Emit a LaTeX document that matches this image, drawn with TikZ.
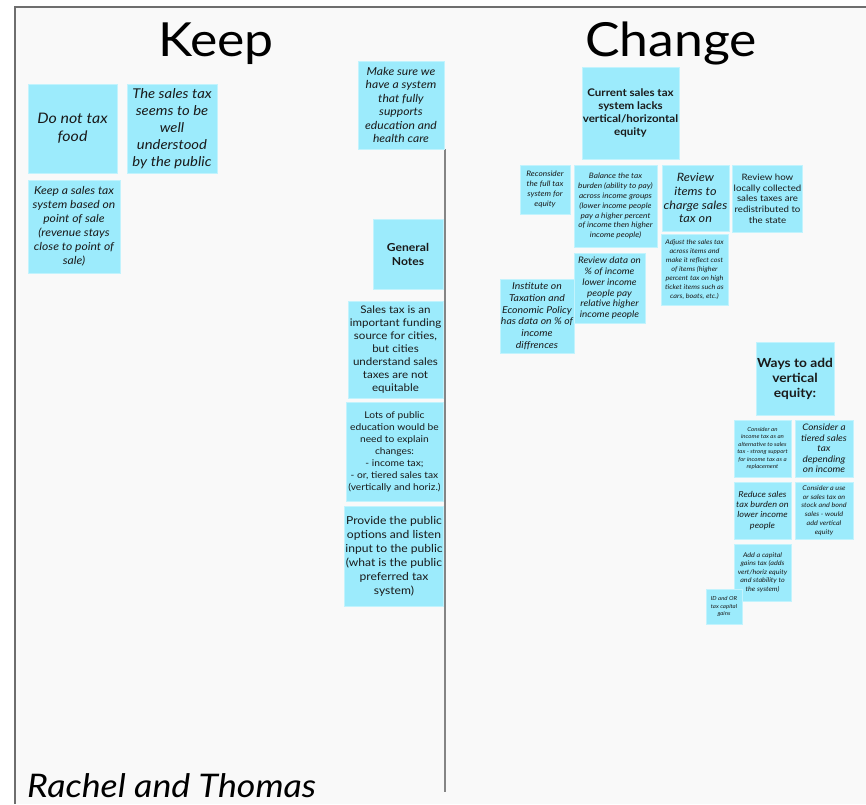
\documentclass[tikz,border=0pt]{standalone}
\usepackage{fontspec}
\setmainfont{Lato}[FakeStretch=1.1]
\definecolor{notefill}{HTML}{9CEBFC}
\definecolor{noteedge}{HTML}{C2F3FD}
\definecolor{boardbg}{HTML}{F9F9F9}
\definecolor{boardline}{HTML}{6E6E6E}
\definecolor{divline}{HTML}{858585}
\definecolor{ink}{HTML}{1A1A1A}
\tikzset{
  note/.style={fill=notefill, draw=noteedge, line width=0.7pt, inner sep=1pt,
    align=center, text=ink},
  it/.style 2 args={font=\fontsize{#1}{#2}\selectfont\itshape},
  rm/.style 2 args={font=\fontsize{#1}{#2}\selectfont},
  bf/.style 2 args={font=\fontsize{#1}{#2}\selectfont\bfseries},
  sz/.style 2 args={minimum width=#1, minimum height=#2},
  heading/.style={font=\fontsize{47}{50}\selectfont, text=black, anchor=base, inner sep=0pt},
}
\begin{document}
\begin{tikzpicture}[x=1pt, y=-1pt]
\useasboundingbox (0,0) rectangle (866,804);
% board
\fill[white] (0,0) rectangle (866,804);
\fill[boardbg] (15,7) rectangle (866,804);
\draw[boardline, line width=1.3pt] (15,804) -- (15,7) -- (866,7);

% headings
\node[heading] (keep) at (216,56) {Keep};
\node[heading] (change) at (671,56) {Change};
\node[font=\fontsize{32.5}{35}\selectfont\itshape, text=black, anchor=base west, inner sep=0pt]
  (authors) at (27,797) {Rachel and Thomas};

% divider between the two columns
\coordinate (divtop) at (445,149);
\coordinate (divend) at (445,792);
\draw[divline, line width=1.8pt] (divtop) -- (divend);

% Keep column
\node[note, it={14.5}{18}, sz={89}{89}] (food) at (72.5,128.5) {Do not tax\\food};
\node[note, it={13.5}{17}, sz={90}{89}] (understood) at (172,128.5)
  {The sales tax\\seems to be\\well\\understood\\by the public};
\node[note, it={11}{14}, sz={92}{93}] (pointofsale) at (74,226.5)
  {Keep a sales tax\\system based on\\point of sale\\(revenue stays\\close to point of\\sale)};

% middle column
\node[note, it={11}{13.5}, sz={86}{88}] (makesure) at (401,105)
  {Make sure we\\have a system\\that fully\\supports\\education and\\health care};
\node[note, bf={11}{14}, sz={70}{70}] (general) at (408,254) {General\\Notes};
\node[note, rm={10.5}{13}, sz={95}{97}] (funding) at (395.5,349.5)
  {Sales tax is an\\important funding\\source for cities,\\but cities\\understand sales\\taxes are not\\equitable};
\node[note, rm={9.3}{12}, sz={97}{99}] (education) at (394.5,451.5)
  {Lots of public\\education would be\\need to explain\\changes:\\- income tax;\\- or, tiered sales tax\\(vertically and horiz.)};
\node[note, rm={11}{14}, sz={98}{100}] (options) at (394,556)
  {Provide the public\\options and listen\\input to the public\\(what is the public\\preferred tax\\system)};

% Change column
\node[note, bf={10.5}{13}, sz={93}{92}] (lacks) at (630.5,113)
  {Current sales tax\\system lacks\\vertical/horizontal\\equity};
\node[note, it={7.5}{10}, sz={50}{49}] (reconsider) at (545,189.5)
  {Reconsider\\the full tax\\system for\\equity};
\node[note, it={7.5}{9.9}, sz={83}{82}] (balance) at (615.5,206)
  {Balance the tax\\burden (ability to pay)\\across income groups\\(lower income people\\pay a higher percent\\of income then higher\\income people)};
\node[note, it={11.5}{13.7}, sz={67}{66}] (items) at (695.5,198)
  {Review\\items to\\charge sales\\tax on};
\node[note, rm={8.8}{10.7}, sz={67}{67}] (locally) at (767.5,198.5)
  {Review how\\locally collected\\sales taxes are\\redistributed to\\the state};
\node[note, it={6.6}{8.9}, sz={67}{71}] (adjust) at (694.5,269.5)
  {Adjust the sales tax\\across items and\\make it reflect cost\\of items (higher\\percent tax on high\\ticket items such as\\cars, boats, etc.)};
\node[note, it={9}{10.9}, sz={71}{70}] (reviewdata) at (609.5,288)
  {Review data on\\\% of income\\lower income\\people pay\\relative higher\\income people};
\node[note, it={9.5}{11.7}, sz={74}{74}] (itep) at (537,316)
  {Institute on\\Taxation and\\Economic Policy\\has data on \% of\\income\\diffrences};

% vertical equity cluster
\node[note, bf={12.5}{15}, sz={74}{73}] (ways) at (795,378.5)
  {Ways to add\\vertical\\equity:};
\node[note, it={5.6}{7.5}, sz={57}{57}] (incometax) at (762.5,448.5)
  {Consider an\\income tax as an\\alternative to sales\\tax - strong support\\for income tax as a\\replacement};
\node[note, it={9}{10.4}, sz={58}{57}] (tiered) at (824,448.5)
  {Consider a\\tiered sales\\tax\\depending\\on income};
\node[note, it={8.3}{10.2}, sz={57}{57}] (reduce) at (762.5,510.5)
  {Reduce sales\\tax burden on\\lower income\\people};
\node[note, it={6.5}{8.8}, sz={58}{57}] (stock) at (824,510.5)
  {Consider a use\\or sales tax on\\stock and bond\\sales - would\\add vertical\\equity};
\node[note, it={6.5}{8.6}, sz={57}{57}] (capgains) at (762.5,572.5)
  {Add a capital\\gains tax (adds\\vert/horiz equity\\and stability to\\the system)};
\node[note, it={5.5}{7.8}, sz={36}{35}] (idor) at (724,606.5)
  {ID and OR\\tax capital\\gains};
\end{tikzpicture}
\end{document}
